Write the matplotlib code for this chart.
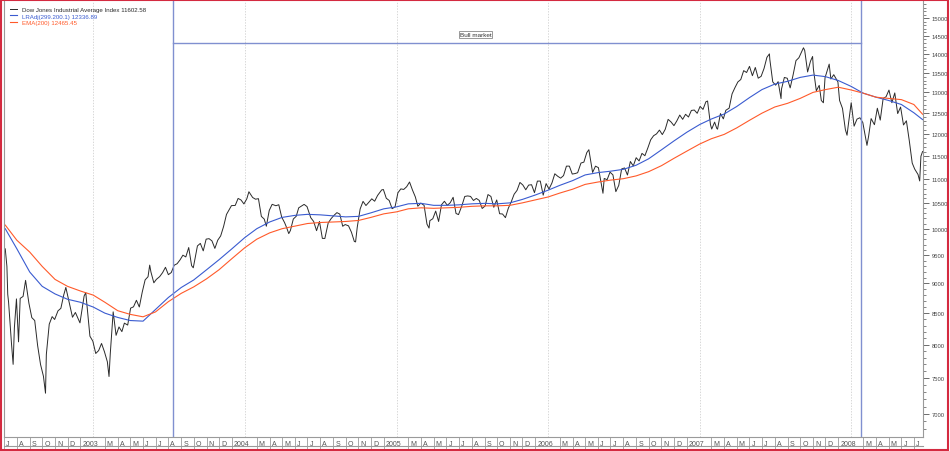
import datetime as dt
import numpy as np
import pandas as pd
import matplotlib
matplotlib.use('Agg')
import matplotlib.pyplot as plt
from matplotlib.lines import Line2D
from matplotlib.ticker import FixedLocator, FixedFormatter, NullFormatter
from matplotlib.transforms import ScaledTranslation

# Dow Jones Industrial Average (weekly-ish points)
dow_dates = [
    '2002-07-04', '2002-07-08', '2002-07-10', '2002-07-12', '2002-07-19', '2002-07-23', '2002-07-26',
    '2002-07-31', '2002-08-05', '2002-08-09', '2002-08-16', '2002-08-22', '2002-08-30', '2002-09-06',
    '2002-09-13', '2002-09-20', '2002-09-27', '2002-10-04', '2002-10-09', '2002-10-11', '2002-10-18',
    '2002-10-25', '2002-10-31', '2002-11-08', '2002-11-15', '2002-11-22', '2002-11-27', '2002-12-06',
    '2002-12-13', '2002-12-20', '2002-12-31', '2003-01-10', '2003-01-14', '2003-01-24', '2003-01-31',
    '2003-02-07', '2003-02-14', '2003-02-21', '2003-02-28', '2003-03-07', '2003-03-11', '2003-03-14',
    '2003-03-21', '2003-03-28', '2003-04-04', '2003-04-11', '2003-04-17', '2003-04-25', '2003-05-02',
    '2003-05-09', '2003-05-16', '2003-05-23', '2003-05-30', '2003-06-06', '2003-06-13', '2003-06-17',
    '2003-06-20', '2003-06-27', '2003-07-03', '2003-07-11', '2003-07-18', '2003-07-25', '2003-08-01',
    '2003-08-08', '2003-08-15', '2003-08-22', '2003-08-29', '2003-09-05', '2003-09-12', '2003-09-19',
    '2003-09-26', '2003-09-30', '2003-10-10', '2003-10-17', '2003-10-24', '2003-10-31', '2003-11-07',
    '2003-11-14', '2003-11-21', '2003-11-28', '2003-12-05', '2003-12-12', '2003-12-19', '2003-12-31',
    '2004-01-09', '2004-01-16', '2004-01-23', '2004-01-30', '2004-02-06', '2004-02-11', '2004-02-20',
    '2004-02-27', '2004-03-05', '2004-03-12', '2004-03-19', '2004-03-24', '2004-03-31', '2004-04-07',
    '2004-04-16', '2004-04-23', '2004-04-30', '2004-05-07', '2004-05-12', '2004-05-17', '2004-05-21',
    '2004-05-28', '2004-06-04', '2004-06-10', '2004-06-23', '2004-06-30', '2004-07-09', '2004-07-16',
    '2004-07-23', '2004-07-30', '2004-08-06', '2004-08-12', '2004-08-20', '2004-08-27', '2004-09-03',
    '2004-09-10', '2004-09-17', '2004-09-24', '2004-09-30', '2004-10-08', '2004-10-15', '2004-10-22',
    '2004-10-25', '2004-10-29', '2004-11-05', '2004-11-12', '2004-11-19', '2004-11-26', '2004-12-03',
    '2004-12-10', '2004-12-17', '2004-12-27', '2004-12-31',
    '2005-01-07', '2005-01-14', '2005-01-21', '2005-01-28', '2005-02-04', '2005-02-11', '2005-02-18',
    '2005-02-25', '2005-03-04', '2005-03-11', '2005-03-18', '2005-03-24', '2005-03-31', '2005-04-08',
    '2005-04-15', '2005-04-20', '2005-04-22', '2005-04-29', '2005-05-06', '2005-05-13', '2005-05-20',
    '2005-05-27', '2005-06-03', '2005-06-10', '2005-06-17', '2005-06-24', '2005-06-30', '2005-07-08',
    '2005-07-15', '2005-07-22', '2005-07-29', '2005-08-05', '2005-08-12', '2005-08-19', '2005-08-26',
    '2005-09-02', '2005-09-09', '2005-09-16', '2005-09-23', '2005-09-30', '2005-10-07', '2005-10-14',
    '2005-10-21', '2005-10-28', '2005-11-04', '2005-11-11', '2005-11-18', '2005-11-25', '2005-12-02',
    '2005-12-09', '2005-12-16', '2005-12-23', '2005-12-30',
    '2006-01-06', '2006-01-13', '2006-01-20', '2006-01-27', '2006-02-03', '2006-02-10', '2006-02-17',
    '2006-02-24', '2006-03-03', '2006-03-10', '2006-03-17', '2006-03-24', '2006-03-31', '2006-04-07',
    '2006-04-13', '2006-04-21', '2006-04-28', '2006-05-05', '2006-05-10', '2006-05-19', '2006-05-26',
    '2006-06-02', '2006-06-09', '2006-06-13', '2006-06-16', '2006-06-23', '2006-06-30', '2006-07-07',
    '2006-07-14', '2006-07-21', '2006-07-28', '2006-08-04', '2006-08-11', '2006-08-18', '2006-08-25',
    '2006-09-01', '2006-09-08', '2006-09-15', '2006-09-22', '2006-09-29', '2006-10-06', '2006-10-13',
    '2006-10-20', '2006-10-27', '2006-11-03', '2006-11-10', '2006-11-17', '2006-11-24', '2006-12-01',
    '2006-12-08', '2006-12-15', '2006-12-22', '2006-12-29',
    '2007-01-05', '2007-01-12', '2007-01-19', '2007-01-26', '2007-02-02', '2007-02-09', '2007-02-16',
    '2007-02-20', '2007-02-27', '2007-03-02', '2007-03-09', '2007-03-14', '2007-03-16', '2007-03-23',
    '2007-03-30', '2007-04-05', '2007-04-13', '2007-04-20', '2007-04-27', '2007-05-04', '2007-05-11',
    '2007-05-18', '2007-05-25', '2007-06-01', '2007-06-08', '2007-06-15', '2007-06-22', '2007-06-29',
    '2007-07-06', '2007-07-13', '2007-07-19', '2007-07-20', '2007-07-27', '2007-08-03', '2007-08-09',
    '2007-08-16', '2007-08-17', '2007-08-24', '2007-08-31', '2007-09-07', '2007-09-14', '2007-09-21',
    '2007-09-28', '2007-10-05', '2007-10-09', '2007-10-12', '2007-10-19', '2007-10-26', '2007-10-31',
    '2007-11-02', '2007-11-09', '2007-11-16', '2007-11-21', '2007-11-26', '2007-11-30', '2007-12-07',
    '2007-12-10', '2007-12-14', '2007-12-21', '2007-12-31',
    '2008-01-04', '2008-01-11', '2008-01-18', '2008-01-22', '2008-01-25', '2008-02-01', '2008-02-08',
    '2008-02-15', '2008-02-22', '2008-02-29', '2008-03-07', '2008-03-10', '2008-03-14', '2008-03-20',
    '2008-03-28', '2008-04-04', '2008-04-11', '2008-04-18', '2008-04-25', '2008-05-02', '2008-05-09',
    '2008-05-16', '2008-05-23', '2008-05-30', '2008-06-06', '2008-06-13', '2008-06-20', '2008-06-27',
    '2008-07-03', '2008-07-11', '2008-07-15', '2008-07-18', '2008-07-22',
]
dow_vals = [
    9620, 9300, 8813, 8684, 8019, 7702, 8264,
    8736, 8043, 8745, 8778, 9053, 8664, 8427,
    8380, 7986, 7701, 7528, 7286, 7850, 8322,
    8443, 8397, 8537, 8579, 8805, 8931, 8645,
    8433, 8511, 8342, 8785, 8842, 8131, 8054,
    7865, 7909, 8018, 7891, 7740, 7524, 7859,
    8521, 8145, 8277, 8203, 8338, 8307, 8582,
    8604, 8713, 8601, 8850, 9062, 9117, 9323,
    9200, 9011, 9070, 9119, 9188, 9284, 9153,
    9191, 9321, 9348, 9416, 9503, 9471, 9644,
    9313, 9275, 9674, 9721, 9582, 9801, 9810,
    9768, 9628, 9782, 9862, 10042, 10278, 10454,
    10458, 10600, 10568, 10488, 10593, 10737, 10619,
    10584, 10595, 10240, 10186, 10048, 10357, 10480,
    10452, 10472, 10225, 10117, 10019, 9906, 9966,
    10188, 10242, 10410, 10479, 10435, 10214, 10140,
    9962, 10140, 9815, 9814, 10110, 10195, 10260,
    10314, 10285, 10047, 10080, 10055, 9933, 9757,
    9749, 10027, 10387, 10540, 10456, 10522, 10592,
    10543, 10661, 10776, 10783,
    10603, 10558, 10393, 10427, 10716, 10796, 10785,
    10841, 10940, 10774, 10630, 10442, 10504, 10461,
    10088, 10012, 10157, 10193, 10345, 10140, 10471,
    10542, 10460, 10512, 10623, 10297, 10275, 10449,
    10640, 10651, 10641, 10558, 10600, 10559, 10397,
    10447, 10679, 10641, 10420, 10569, 10292, 10287,
    10215, 10402, 10531, 10686, 10766, 10931, 10877,
    10778, 10876, 10883, 10718,
    10959, 10960, 10667, 10907, 10793, 10919, 11115,
    11062, 11022, 11076, 11280, 11280, 11109, 11120,
    11138, 11347, 11367, 11577, 11642, 11144, 11279,
    11247, 10891, 10706, 11015, 10989, 11150, 11091,
    10739, 10868, 11219, 11240, 11088, 11381, 11284,
    11464, 11393, 11560, 11508, 11679, 11867, 11960,
    12002, 12090, 11986, 12108, 12342, 12280, 12194,
    12307, 12445, 12343, 12463,
    12398, 12556, 12566, 12487, 12653, 12581, 12768,
    12786, 12216, 12114, 12277, 12133, 12111, 12481,
    12354, 12560, 12612, 12962, 13120, 13264, 13326,
    13556, 13507, 13668, 13424, 13639, 13360, 13408,
    13611, 13908, 14000, 13851, 13265, 13182, 13271,
    12846, 13079, 13379, 13358, 13113, 13442, 13820,
    13896, 14066, 14165, 14093, 13522, 13807, 13930,
    13595, 13042, 13177, 12799, 12743, 13372, 13625,
    13727, 13339, 13450, 13265,
    12800, 12606, 12100, 11971, 12207, 12743, 12182,
    12348, 12381, 12266, 11894, 11740, 11951, 12361,
    12216, 12609, 12325, 12849, 12891, 13058, 12745,
    12986, 12480, 12638, 12210, 12308, 11843, 11347,
    11216, 11100, 10963, 11496, 11602,
]

# indicator lines, monthly reads
ind_dates = [
    '2002-07-04', '2002-08-01', '2002-09-01', '2002-10-01', '2002-11-01', '2002-12-01',
    '2003-01-01', '2003-02-01', '2003-03-01', '2003-04-01', '2003-05-01', '2003-06-01',
    '2003-07-01', '2003-08-01', '2003-09-01', '2003-10-01', '2003-11-01', '2003-12-01',
    '2004-01-01', '2004-02-01', '2004-03-01', '2004-04-01', '2004-05-01', '2004-06-01',
    '2004-07-01', '2004-08-01', '2004-09-01', '2004-10-01', '2004-11-01', '2004-12-01',
    '2005-01-01', '2005-02-01', '2005-03-01', '2005-04-01', '2005-05-01', '2005-06-01',
    '2005-07-01', '2005-08-01', '2005-09-01', '2005-10-01', '2005-11-01', '2005-12-01',
    '2006-01-01', '2006-02-01', '2006-03-01', '2006-04-01', '2006-05-01', '2006-06-01',
    '2006-07-01', '2006-08-01', '2006-09-01', '2006-10-01', '2006-11-01', '2006-12-01',
    '2007-01-01', '2007-02-01', '2007-03-01', '2007-04-01', '2007-05-01', '2007-06-01',
    '2007-07-01', '2007-08-01', '2007-09-01', '2007-10-01', '2007-11-01', '2007-12-01',
    '2008-01-01', '2008-02-01', '2008-03-01', '2008-04-01', '2008-05-01', '2008-06-01',
    '2008-07-01', '2008-07-22',
]
ema_vals = [
    10070, 9780, 9560, 9300, 9070, 8950,
    8870, 8800, 8680, 8540, 8480, 8440,
    8520, 8690, 8830, 8940, 9080, 9240,
    9440, 9640, 9800, 9920, 10000, 10050,
    10100, 10120, 10130, 10140, 10160, 10220,
    10290, 10330, 10390, 10410, 10400, 10410,
    10420, 10440, 10450, 10450, 10460, 10510,
    10570, 10630, 10710, 10790, 10890, 10940,
    10980, 11010, 11070, 11160, 11290, 11450,
    11610, 11770, 11890, 11990, 12140, 12320,
    12490, 12640, 12730, 12850, 13000, 13070,
    13130, 13060, 12980, 12880, 12850, 12820,
    12700, 12465,
]
lr_vals = [
    10000, 9620, 9200, 8950, 8820, 8730,
    8680, 8600, 8500, 8430, 8380, 8370,
    8560, 8760, 8930, 9060, 9240, 9420,
    9620, 9830, 10000, 10130, 10220, 10260,
    10280, 10270, 10250, 10230, 10240, 10310,
    10390, 10430, 10490, 10500, 10460, 10460,
    10470, 10490, 10500, 10490, 10510, 10580,
    10670, 10770, 10870, 10970, 11090, 11140,
    11170, 11210, 11300, 11440, 11640, 11840,
    12040, 12220, 12350, 12470, 12650, 12870,
    13070, 13210, 13280, 13380, 13440, 13400,
    13300, 13150, 12980, 12880, 12800, 12700,
    12500, 12337,
]

legend_labels = ['Dow Jones Industrial Average Index 11602.58',
                 'LRAdj(299.200.1) 12336.89',
                 'EMA(200) 12465.45']
bull_start, bull_end, bull_level = '2003-08-11', '2008-02-25', 14300
bull_label_date = '2005-08-10'

y_major = list(range(7000, 15001, 500))
y_minor = list(range(6800, 15500, 100))

dow_x = np.array(dow_dates, dtype='datetime64[D]')
ind_x = np.array(ind_dates, dtype='datetime64[D]')

plt.rcParams['font.family'] = ['Liberation Sans', 'DejaVu Sans']
fig = plt.figure(figsize=(9.5, 4.52), dpi=100)
ax = fig.add_axes([4 / 950, 1 - 438 / 452, 919 / 950, 436 / 452])

gray = '#9a9a9a'
ax.plot(dow_x, dow_vals, color='#2a2a2a', lw=0.7, label=legend_labels[0])
ax.plot(ind_x, lr_vals, color='#3a5bd0', lw=0.8, label=legend_labels[1])
ax.plot(ind_x, ema_vals, color='#ff5a2a', lw=0.8, label=legend_labels[2])

ax.set_yscale('log')
ax.set_ylim(6697, 15500)
ax.set_xlim(dt.date(2002, 7, 4), dt.date(2008, 7, 23))

# bull market markers
bs, be = np.datetime64(bull_start), np.datetime64(bull_end)
ax.axvline(bs, color='#8090d0', lw=1.0)
ax.axvline(be, color='#8090d0', lw=1.0)
ax.plot([bs, be], [bull_level, bull_level], color='#8090d0', lw=1.0)
ax.text(np.datetime64(bull_label_date), bull_level * 1.012, 'Bull market', ha='center', va='bottom',
        fontsize=4.6, color='#333333',
        bbox=dict(boxstyle='square,pad=0.15', fc='white', ec='#888888', lw=0.6))

# y axis on right
ax.yaxis.tick_right()
ax.yaxis.set_major_locator(FixedLocator(y_major))
ax.yaxis.set_major_formatter(FixedFormatter([str(v) for v in y_major]))
ax.yaxis.set_minor_locator(FixedLocator(y_minor))
ax.yaxis.set_minor_formatter(NullFormatter())
ax.tick_params(axis='y', which='major', length=4, width=0.6, color='#555555', labelsize=4.2,
               labelcolor='#444444', pad=2.5)
ax.tick_params(axis='y', which='minor', length=2, width=0.5, color='#555555')

# month boxes along the bottom
months = pd.date_range('2002-07-01', '2008-07-01', freq='MS')
lab_months = [m for m in months if m.month != 2]
lab_text = [str(m.year) if m.month == 1 else 'JFMAMJJASOND'[m.month - 1] for m in lab_months]
ax.set_xticks(lab_months)
ax.set_xticklabels(lab_text)
ax.set_xticks(months, minor=True)
ax.tick_params(axis='x', which='major', length=9, width=0.6, color=gray, labelsize=5,
               labelcolor='#555555', pad=-7)
ax.tick_params(axis='x', which='minor', length=0)
off = ScaledTranslation(2 / 100, 0, fig.dpi_scale_trans)
for t in ax.get_xticklabels():
    t.set_ha('left')
    t.set_transform(t.get_transform() + off)
ax.grid(True, axis='x', which='minor', color='#c8c8c8', ls=(0, (2, 2)), lw=0.5)

for s in ['left', 'right', 'bottom']:
    ax.spines[s].set_color(gray)
    ax.spines[s].set_linewidth(0.8)
ax.spines['top'].set_visible(False)

leg = ax.legend(loc='upper left', fontsize=4.4, frameon=False, handlelength=1.3,
                handletextpad=0.7, labelspacing=0.25, borderaxespad=0.5, labelcolor='linecolor')

# bottom line of the label row and red frame
fig.add_artist(Line2D([4 / 950, 923 / 950], [1 - 447 / 452] * 2, color=gray, lw=0.8))
fig.add_artist(plt.Rectangle((0.001, 0.002), 0.997, 0.996, transform=fig.transFigure,
                             fill=False, ec='#d42a40', lw=1.5))

fig.savefig('out.png', dpi=100)
